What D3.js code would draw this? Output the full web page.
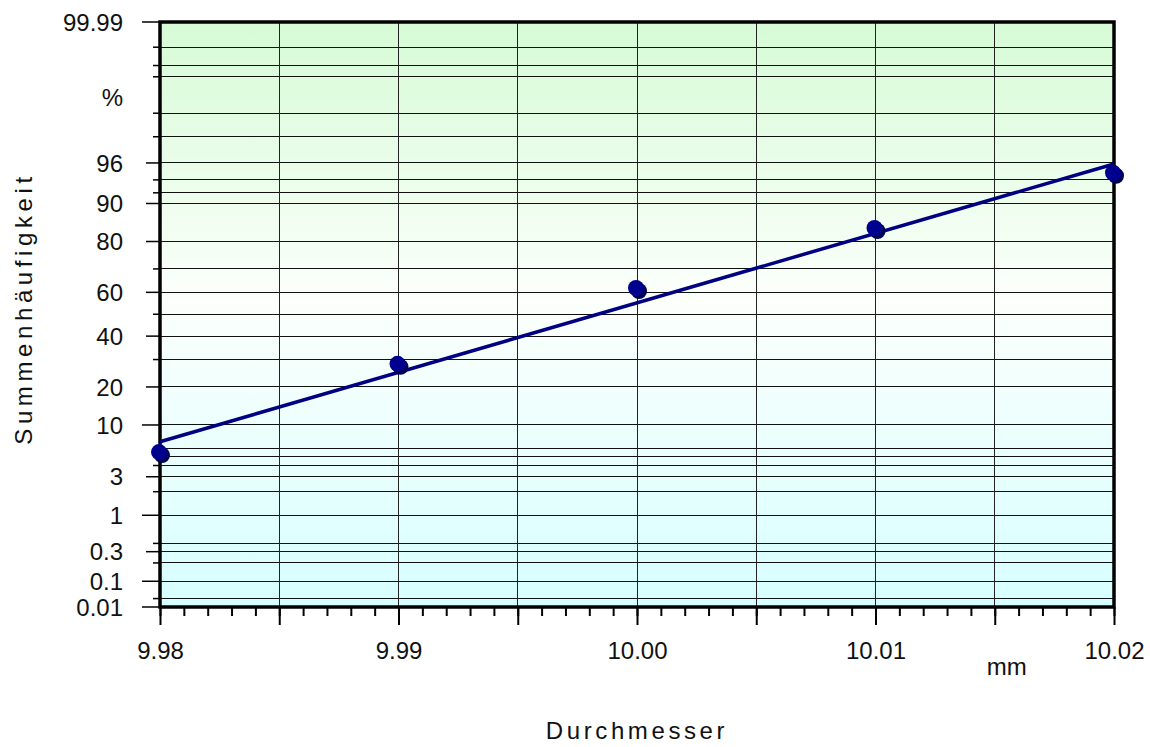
<!DOCTYPE html>
<html>
<head>
<meta charset="utf-8">
<script src="https://cdn.jsdelivr.net/npm/d3@7"></script>
<style>
  body { margin: 0; background: #fff; }
  text { font-family: Arial, "Liberation Sans", sans-serif; fill: #111; }
</style>
</head>
<body>
<div id="chart"></div>
<script>
// measured diameters (mm) and cumulative frequency (%)
const diameters = [9.98, 9.99, 10.00, 10.01, 10.02];
const cumFreq = [5.4, 27.9, 61.5, 83.8, 94.8];

// fitted normal line, two end points
const fitX = [9.98, 10.02];
const fitY = [7.0, 95.9];

// probability axis: labelled ticks and the extra grid levels
const yLabelValues = [0.01, 0.1, 0.3, 1, 3, 10, 20, 40, 60, 80, 90, 96, 99.99];
const yLabels = ["0.01", "0.1", "0.3", "1", "3", "10", "20", "40", "60", "80", "90", "96", "99.99"];
const yLongTicks = [0.01, 0.1, 1, 10, 99.99];
const yGridValues = [0.05, 0.1, 0.2, 0.3, 0.4, 1, 2, 3, 4, 5, 6, 10, 20, 30, 40, 50, 60, 70, 80, 90, 92, 94, 96, 98, 99, 99.7, 99.8, 99.9];
const yRange = [0.0352, 99.964];

// x axis
const xDomain = [9.98, 10.02];
const xLabelValues = [9.98, 9.99, 10.00, 10.01, 10.02];
const xMajorValues = [9.98, 9.985, 9.99, 9.995, 10.00, 10.005, 10.01, 10.015, 10.02];
const xMinorValues = d3.range(0, 41).map(i => +(9.98 + i * 0.001).toFixed(3));

const margin = { top: 22, right: 36, bottom: 140, left: 160 },
    width = 1150 - margin.left - margin.right,
    height = 747 - margin.top - margin.bottom;

// inverse of the standard normal cdf (Acklam)
function probit(p) {
    const a = [-3.969683028665376e+01, 2.209460984245205e+02, -2.759285104469687e+02, 1.383577518672690e+02, -3.066479806614716e+01, 2.506628277459239e+00];
    const b = [-5.447609879822406e+01, 1.615858368580409e+02, -1.556989798598866e+02, 6.680131188771972e+01, -1.328068155288572e+01];
    const c = [-7.784894002430293e-03, -3.223964580411365e-01, -2.400758277161838e+00, -2.549732539343734e+00, 4.374664141464968e+00, 2.938163982698783e+00];
    const d = [7.784695709041462e-03, 3.224671290700398e-01, 2.445134137142996e+00, 3.754408661907416e+00];
    const pl = 0.02425;
    let q, r;
    if (p < pl) {
        q = Math.sqrt(-2 * Math.log(p));
        return (((((c[0] * q + c[1]) * q + c[2]) * q + c[3]) * q + c[4]) * q + c[5]) /
            ((((d[0] * q + d[1]) * q + d[2]) * q + d[3]) * q + 1);
    }
    if (p <= 1 - pl) {
        q = p - 0.5; r = q * q;
        return (((((a[0] * r + a[1]) * r + a[2]) * r + a[3]) * r + a[4]) * r + a[5]) * q /
            (((((b[0] * r + b[1]) * r + b[2]) * r + b[3]) * r + b[4]) * r + 1);
    }
    q = Math.sqrt(-2 * Math.log(1 - p));
    return -(((((c[0] * q + c[1]) * q + c[2]) * q + c[3]) * q + c[4]) * q + c[5]) /
        ((((d[0] * q + d[1]) * q + d[2]) * q + d[3]) * q + 1);
}

const x = d3.scaleLinear().domain(xDomain).range([0, width]);
const yz = d3.scaleLinear()
    .domain([probit(yRange[0] / 100), probit(yRange[1] / 100)])
    .range([height, 0])
    .clamp(true);
const y = v => yz(probit(v / 100));

const svg = d3.select("#chart")
    .append("svg")
    .attr("width", width + margin.left + margin.right)
    .attr("height", height + margin.top + margin.bottom)
    .append("g")
    .attr("transform", "translate(" + margin.left + "," + margin.top + ")");

// background gradient
const grad = svg.append("defs").append("linearGradient")
    .attr("id", "bg").attr("x1", 0).attr("y1", 0).attr("x2", 0).attr("y2", 1);
grad.append("stop").attr("offset", "0%").attr("stop-color", "#d6fbd6");
grad.append("stop").attr("offset", "48%").attr("stop-color", "#fcfffc");
grad.append("stop").attr("offset", "100%").attr("stop-color", "#d6ffff");

svg.append("rect")
    .attr("width", width)
    .attr("height", height)
    .attr("fill", "url(#bg)");

// horizontal grid
svg.append("g")
    .selectAll("line")
    .data(yGridValues)
    .join("line")
    .attr("x1", 0).attr("x2", width)
    .attr("y1", d => y(d)).attr("y2", d => y(d))
    .attr("stroke", "#111")
    .attr("stroke-width", 1)
    .attr("shape-rendering", "crispEdges");

// vertical grid
svg.append("g")
    .selectAll("line")
    .data(xMajorValues)
    .join("line")
    .attr("x1", d => x(d)).attr("x2", d => x(d))
    .attr("y1", 0).attr("y2", height)
    .attr("stroke", "#222")
    .attr("stroke-width", 1)
    .attr("shape-rendering", "crispEdges");

// y ticks: minor on every grid level, longer on labelled ones
svg.append("g")
    .selectAll("line")
    .data(yGridValues.filter(v => !yLabelValues.includes(v)))
    .join("line")
    .attr("x1", -7).attr("x2", 0)
    .attr("y1", d => y(d)).attr("y2", d => y(d))
    .attr("stroke", "#000").attr("stroke-width", 1.5);

svg.append("g")
    .selectAll("line")
    .data(yLabelValues)
    .join("line")
    .attr("x1", d => yLongTicks.includes(d) ? -18 : -14).attr("x2", 0)
    .attr("y1", d => y(d)).attr("y2", d => y(d))
    .attr("stroke", "#000").attr("stroke-width", 1.5);

svg.append("g")
    .selectAll("text")
    .data(yLabelValues)
    .join("text")
    .attr("x", -37)
    .attr("y", d => y(d))
    .attr("dy", "0.36em")
    .attr("text-anchor", "end")
    .style("font-size", "24px")
    .text((d, i) => yLabels[i]);

svg.append("text")
    .attr("x", -37)
    .attr("y", y(99.4))
    .attr("dy", "0.36em")
    .attr("text-anchor", "end")
    .style("font-size", "24px")
    .text("%");

// x axis: minor and major ticks
svg.append("g")
    .attr("transform", "translate(0," + height + ")")
    .call(d3.axisBottom(x).tickValues(xMinorValues).tickSize(9).tickFormat(""))
    .call(g => g.select(".domain").remove())
    .call(g => g.selectAll(".tick line").attr("stroke", "#000").attr("stroke-width", 2));

svg.append("g")
    .attr("transform", "translate(0," + height + ")")
    .call(d3.axisBottom(x).tickValues(xMajorValues).tickSize(18).tickPadding(17)
        .tickFormat(d => xLabelValues.some(v => Math.abs(v - d) < 1e-9) ? d3.format(".2f")(d) : ""))
    .call(g => g.select(".domain").remove())
    .call(g => g.selectAll(".tick line").attr("stroke", "#000").attr("stroke-width", 2))
    .call(g => g.selectAll(".tick text").style("font-size", "24px").attr("fill", "#111")
        .style("font-family", "Arial, 'Liberation Sans', sans-serif"));

// frame
svg.append("rect")
    .attr("width", width)
    .attr("height", height)
    .attr("fill", "none")
    .attr("stroke", "#000")
    .attr("stroke-width", 3.5);

// fitted line
svg.append("path")
    .datum(fitX.map((v, i) => [v, fitY[i]]))
    .attr("fill", "none")
    .attr("stroke", "#000080")
    .attr("stroke-width", 3.5)
    .attr("d", d3.line().x(d => x(d[0])).y(d => y(d[1])));

// points: a dark shadow plus the dot
const pts = svg.append("g")
    .selectAll("g")
    .data(diameters.map((v, i) => [v, cumFreq[i]]))
    .join("g")
    .attr("transform", d => "translate(" + x(d[0]) + "," + y(d[1]) + ")");
pts.append("circle").attr("cx", 2).attr("cy", 2).attr("r", 8).attr("fill", "#000055");
pts.append("circle").attr("cx", -1).attr("cy", -1).attr("r", 8).attr("fill", "#00008f");

// units and titles
svg.append("text")
    .attr("x", x(10.0155))
    .attr("y", height + 68)
    .attr("text-anchor", "middle")
    .style("font-size", "24px")
    .text("mm");

svg.append("text")
    .attr("x", width / 2)
    .attr("y", height + 132)
    .attr("text-anchor", "middle")
    .style("font-size", "24px")
    .style("letter-spacing", "3.6px")
    .text("Durchmesser");

svg.append("text")
    .attr("transform", "translate(" + (32 - margin.left) + "," + (height / 2 - 6) + ") rotate(-90)")
    .attr("text-anchor", "middle")
    .style("font-size", "24px")
    .style("letter-spacing", "4.6px")
    .text("Summenhäufigkeit");
</script>
</body>
</html>
